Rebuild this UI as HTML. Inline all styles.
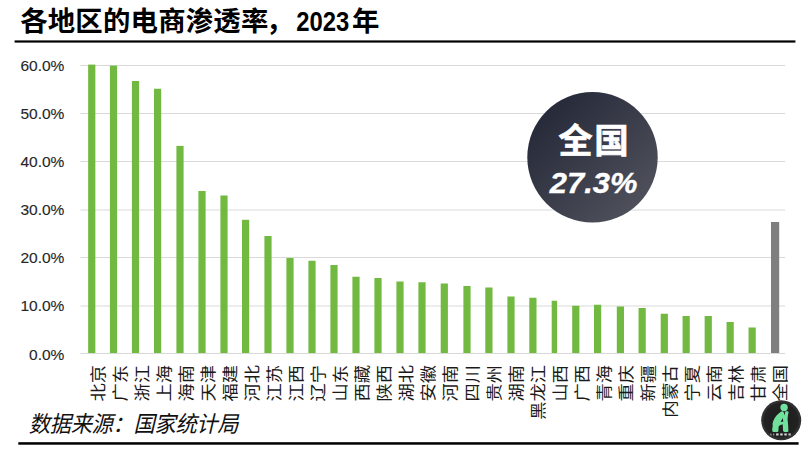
<!DOCTYPE html>
<html lang="zh-CN">
<head>
<meta charset="utf-8">
<title>各地区的电商渗透率，2023年</title>
<style>
html,body{margin:0;padding:0;background:#fff;}
body{width:812px;height:454px;overflow:hidden;font-family:"Liberation Sans","Noto Sans CJK SC",sans-serif;}
svg{display:block;}
.t{font-family:"Liberation Sans","Noto Sans CJK SC",sans-serif;}
.title{font-weight:700;font-size:27.4px;letter-spacing:0.2px;fill:#000;}
.yl{font-size:14.6px;fill:#262626;stroke:#262626;stroke-width:0.12px;}
.xl{font-size:18px;fill:#1a1a1a;}
.src{font-size:21.3px;letter-spacing:-0.35px;font-style:italic;fill:#111;}
.big1{font-weight:700;font-size:34.4px;letter-spacing:1.7px;fill:#fff;stroke:#fff;stroke-width:0.6px;}
.big2{font-weight:700;font-style:italic;font-size:30px;fill:#fff;stroke:#fff;stroke-width:0.35px;}
</style>
</head>
<body>
<svg width="812" height="454" viewBox="0 0 812 454">
<defs>
<linearGradient id="cg" x1="0.15" y1="0.15" x2="0.85" y2="0.85">
<stop offset="0" stop-color="#272a39"/>
<stop offset="1" stop-color="#4d4f5a"/>
</linearGradient>
<radialGradient id="lg" cx="0.5" cy="0.5" r="0.5">
<stop offset="0" stop-color="#1c1c1c"/>
<stop offset="0.84" stop-color="#222222"/>
<stop offset="0.95" stop-color="#343434"/>
<stop offset="1" stop-color="#2a2a2a"/>
</radialGradient>
</defs>
<rect x="0" y="0" width="812" height="454" fill="#ffffff"/>
<text class="t title" x="20.2" y="30.6">各地区的电商渗透率</text>
<text class="t title" x="266" y="30.6">，</text>
<text class="t title" x="296.2" y="30.6" textLength="53" style="letter-spacing:0" lengthAdjust="spacingAndGlyphs">2023</text>
<text class="t title" x="352" y="30.6">年</text>
<rect x="14.6" y="40.4" width="780.8" height="2.2" fill="#000"/>
<rect x="80.5" y="65" width="704.7" height="1" fill="#d9d9d9"/>
<rect x="80.5" y="113" width="704.7" height="1" fill="#d9d9d9"/>
<rect x="80.5" y="161" width="704.7" height="1" fill="#d9d9d9"/>
<rect x="80.5" y="209.5" width="704.7" height="1" fill="#d9d9d9"/>
<rect x="80.5" y="257" width="704.7" height="1" fill="#d9d9d9"/>
<rect x="80.5" y="305.5" width="704.7" height="1" fill="#d9d9d9"/>
<rect x="80.5" y="353" width="704.7" height="1" fill="#d9d9d9"/>
<text class="t yl" x="20.4" y="71.20" textLength="44.0" lengthAdjust="spacingAndGlyphs">60.0%</text>
<text class="t yl" x="20.4" y="119.20" textLength="44.0" lengthAdjust="spacingAndGlyphs">50.0%</text>
<text class="t yl" x="20.4" y="167.20" textLength="44.0" lengthAdjust="spacingAndGlyphs">40.0%</text>
<text class="t yl" x="20.4" y="215.20" textLength="44.0" lengthAdjust="spacingAndGlyphs">30.0%</text>
<text class="t yl" x="20.4" y="263.20" textLength="44.0" lengthAdjust="spacingAndGlyphs">20.0%</text>
<text class="t yl" x="20.4" y="311.20" textLength="44.0" lengthAdjust="spacingAndGlyphs">10.0%</text>
<text class="t yl" x="29.1" y="360.20" textLength="35.3" lengthAdjust="spacingAndGlyphs">0.0%</text>
<rect x="88.15" y="64.60" width="7.2" height="288.40" fill="#72b941"/>
<rect x="109.90" y="65.60" width="7.2" height="287.40" fill="#72b941"/>
<rect x="131.90" y="81.00" width="7.2" height="272.00" fill="#72b941"/>
<rect x="154.00" y="88.75" width="7.2" height="264.25" fill="#72b941"/>
<rect x="176.40" y="145.90" width="7.2" height="207.10" fill="#72b941"/>
<rect x="198.40" y="191.00" width="7.2" height="162.00" fill="#72b941"/>
<rect x="220.40" y="195.50" width="7.2" height="157.50" fill="#72b941"/>
<rect x="242.00" y="219.80" width="7.2" height="133.20" fill="#72b941"/>
<rect x="264.40" y="236.00" width="7.2" height="117.00" fill="#72b941"/>
<rect x="286.40" y="258.00" width="7.2" height="95.00" fill="#72b941"/>
<rect x="308.40" y="260.75" width="7.2" height="92.25" fill="#72b941"/>
<rect x="330.40" y="265.00" width="7.2" height="88.00" fill="#72b941"/>
<rect x="352.40" y="276.75" width="7.2" height="76.25" fill="#72b941"/>
<rect x="374.40" y="278.00" width="7.2" height="75.00" fill="#72b941"/>
<rect x="396.40" y="281.50" width="7.2" height="71.50" fill="#72b941"/>
<rect x="418.40" y="282.25" width="7.2" height="70.75" fill="#72b941"/>
<rect x="440.70" y="283.50" width="7.2" height="69.50" fill="#72b941"/>
<rect x="463.40" y="286.00" width="7.2" height="67.00" fill="#72b941"/>
<rect x="485.30" y="287.50" width="7.2" height="65.50" fill="#72b941"/>
<rect x="507.40" y="296.50" width="7.2" height="56.50" fill="#72b941"/>
<rect x="529.30" y="297.75" width="7.2" height="55.25" fill="#72b941"/>
<rect x="551.70" y="300.75" width="5.4" height="52.25" fill="#72b941"/>
<rect x="572.20" y="305.75" width="7.2" height="47.25" fill="#72b941"/>
<rect x="594.00" y="304.75" width="7.2" height="48.25" fill="#72b941"/>
<rect x="616.80" y="306.50" width="7.2" height="46.50" fill="#72b941"/>
<rect x="638.55" y="308.00" width="7.2" height="45.00" fill="#72b941"/>
<rect x="660.70" y="313.75" width="7.2" height="39.25" fill="#72b941"/>
<rect x="682.55" y="316.00" width="7.2" height="37.00" fill="#72b941"/>
<rect x="704.65" y="316.00" width="7.2" height="37.00" fill="#72b941"/>
<rect x="726.55" y="322.00" width="7.2" height="31.00" fill="#72b941"/>
<rect x="748.55" y="327.50" width="7.2" height="25.50" fill="#72b941"/>
<rect x="771.00" y="222.00" width="8.2" height="131.00" fill="#7f7f7f"/>
<text class="t xl" text-anchor="end" transform="translate(103.55 365.0) rotate(-90) scale(1.015 0.91)">北京</text>
<text class="t xl" text-anchor="end" transform="translate(125.55 365.0) rotate(-90) scale(1.015 0.91)">广东</text>
<text class="t xl" text-anchor="end" transform="translate(147.55 365.0) rotate(-90) scale(1.015 0.91)">浙江</text>
<text class="t xl" text-anchor="end" transform="translate(169.55 365.0) rotate(-90) scale(1.015 0.91)">上海</text>
<text class="t xl" text-anchor="end" transform="translate(191.55 365.0) rotate(-90) scale(1.015 0.91)">海南</text>
<text class="t xl" text-anchor="end" transform="translate(213.55 365.0) rotate(-90) scale(1.015 0.91)">天津</text>
<text class="t xl" text-anchor="end" transform="translate(235.55 365.0) rotate(-90) scale(1.015 0.91)">福建</text>
<text class="t xl" text-anchor="end" transform="translate(257.55 365.0) rotate(-90) scale(1.015 0.91)">河北</text>
<text class="t xl" text-anchor="end" transform="translate(279.55 365.0) rotate(-90) scale(1.015 0.91)">江苏</text>
<text class="t xl" text-anchor="end" transform="translate(301.55 365.0) rotate(-90) scale(1.015 0.91)">江西</text>
<text class="t xl" text-anchor="end" transform="translate(323.55 365.0) rotate(-90) scale(1.015 0.91)">辽宁</text>
<text class="t xl" text-anchor="end" transform="translate(345.55 365.0) rotate(-90) scale(1.015 0.91)">山东</text>
<text class="t xl" text-anchor="end" transform="translate(367.55 365.0) rotate(-90) scale(1.015 0.91)">西藏</text>
<text class="t xl" text-anchor="end" transform="translate(389.55 365.0) rotate(-90) scale(1.015 0.91)">陕西</text>
<text class="t xl" text-anchor="end" transform="translate(411.55 365.0) rotate(-90) scale(1.015 0.91)">湖北</text>
<text class="t xl" text-anchor="end" transform="translate(433.55 365.0) rotate(-90) scale(1.015 0.91)">安徽</text>
<text class="t xl" text-anchor="end" transform="translate(455.55 365.0) rotate(-90) scale(1.015 0.91)">河南</text>
<text class="t xl" text-anchor="end" transform="translate(477.55 365.0) rotate(-90) scale(1.015 0.91)">四川</text>
<text class="t xl" text-anchor="end" transform="translate(499.55 365.0) rotate(-90) scale(1.015 0.91)">贵州</text>
<text class="t xl" text-anchor="end" transform="translate(521.55 365.0) rotate(-90) scale(1.015 0.91)">湖南</text>
<text class="t xl" text-anchor="end" transform="translate(543.55 365.0) rotate(-90) scale(1.015 0.91)">黑龙江</text>
<text class="t xl" text-anchor="end" transform="translate(565.55 365.0) rotate(-90) scale(1.015 0.91)">山西</text>
<text class="t xl" text-anchor="end" transform="translate(587.55 365.0) rotate(-90) scale(1.015 0.91)">广西</text>
<text class="t xl" text-anchor="end" transform="translate(609.55 365.0) rotate(-90) scale(1.015 0.91)">青海</text>
<text class="t xl" text-anchor="end" transform="translate(631.55 365.0) rotate(-90) scale(1.015 0.91)">重庆</text>
<text class="t xl" text-anchor="end" transform="translate(653.55 365.0) rotate(-90) scale(1.015 0.91)">新疆</text>
<text class="t xl" text-anchor="end" transform="translate(675.55 365.0) rotate(-90) scale(0.975 0.91)">内蒙古</text>
<text class="t xl" text-anchor="end" transform="translate(697.55 365.0) rotate(-90) scale(1.015 0.91)">宁夏</text>
<text class="t xl" text-anchor="end" transform="translate(719.55 365.0) rotate(-90) scale(1.015 0.91)">云南</text>
<text class="t xl" text-anchor="end" transform="translate(741.55 365.0) rotate(-90) scale(1.015 0.91)">吉林</text>
<text class="t xl" text-anchor="end" transform="translate(763.55 365.0) rotate(-90) scale(1.015 0.91)">甘肃</text>
<text class="t xl" text-anchor="end" transform="translate(785.55 365.0) rotate(-90) scale(1.015 0.91)">全国</text>
<circle cx="592.5" cy="157.3" r="65.2" fill="url(#cg)"/>
<text class="t big1" x="558.2" y="152.5">全国</text>
<text class="t big2" x="549.8" y="193.1" textLength="87.6" lengthAdjust="spacingAndGlyphs">27.3%</text>
<text class="t src" transform="translate(28.8 431.5) scale(1 1.06)">数据来源：国家统计局</text>
<rect x="18.3" y="442.2" width="780.3" height="2.5" fill="#000"/>
<g>
<circle cx="781.2" cy="420.3" r="20" fill="url(#lg)"/>
<g transform="translate(764 400) scale(0.08803)" fill="#70e29e">
<circle cx="228" cy="86" r="42"/>
<path fill-rule="evenodd" d="M205 128 C160 150 108 205 97 272 Q104 300 94 325 L93 347 Q92 363 108 363 L150 363 Q164 363 164 348 L166 300 Q172 284 212 276 L217 350 Q218 363 232 363 L264 363 Q278 363 277 348 L274 280 Q262 215 272 170 L279 142 Q280 128 266 128 L250 128 Q240 128 240 140 L237 176 L226 146 Q220 126 205 128 Z M189 246 L214 204 L219 246 Z"/>
</g>
<g fill="#d2d2d2">
<rect x="770.1" y="433.6" width="1.5" height="1.8" fill="#8c8c8c"/>
<rect x="773" y="433.6" width="1.3" height="1.8" fill="#9a9a9a"/>
<rect x="776.1" y="433.4" width="2.5" height="2.1"/>
<rect x="780.2" y="433.4" width="2.5" height="2.1"/>
<rect x="784.3" y="433.4" width="2.5" height="2.1"/>
<rect x="788.4" y="433.4" width="2.4" height="2.1" fill="#bdbdbd"/>
</g>
</g>
</svg>
</body>
</html>
